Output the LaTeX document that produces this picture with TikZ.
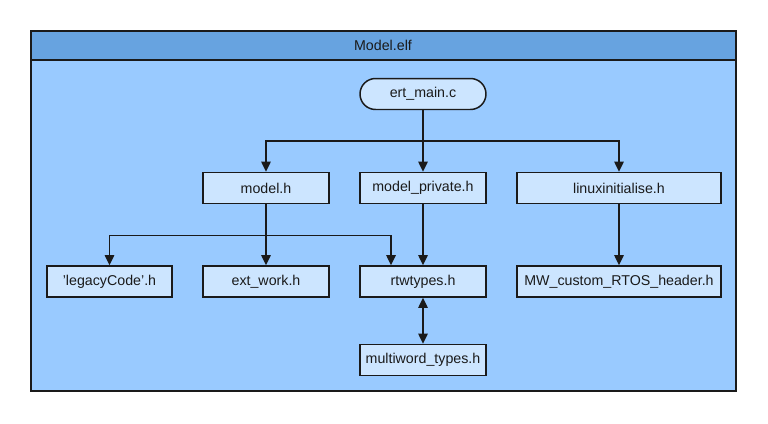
\documentclass[tikz,border=0pt]{standalone}
\usepackage{fontspec}
\setmainfont{Liberation Sans}
\usepackage{xcolor}
\usepackage{tikz}
\usetikzlibrary{calc,arrows.meta,shapes.misc}
\definecolor{head}{HTML}{67A3E0}
\definecolor{body}{HTML}{99CAFF}
\definecolor{cell}{HTML}{CCE5FF}
\definecolor{ink}{HTML}{1A1A1A}
\tikzset{
  frame/.style={draw=ink, line width=0.85pt},
  box/.style={draw=ink, fill=cell, line width=0.85pt, minimum width=2.52cm, minimum height=0.62cm, inner sep=0pt, font=\fontsize{8.1}{9}\selectfont},
  wide/.style={box, minimum width=4.08cm},
  term/.style={box, rounded rectangle},
  arr/.style={draw=ink, line width=0.85pt, -{Triangle[length=5.8pt,width=5.4pt]}},
  biarr/.style={arr, {Triangle[length=5.8pt,width=5.4pt]}-{Triangle[length=5.8pt,width=5.4pt]}},
  every node/.style={text=ink}
}

\begin{document}
\begin{tikzpicture}[x=0.02cm, y=-0.02cm]
  \useasboundingbox (0,0) rectangle (768,423);
  % outer frame with title band
  \fill[body] (31,31) rectangle (736,391);
  \fill[head] (31,31) rectangle (736,60);
  \draw[frame] (31,31) rectangle (736,391);
  \draw[frame] (31,60) -- (736,60);
  \node[font=\fontsize{8.1}{9}\selectfont] (title) at (383,45.5) {Model.elf};

  \node[term] (ert) at (423,94) {ert\_main.c};

  \node[box] (mh) at (266,188) {model.h};
  \node[box] (mp) at (423,188) {model\_private.h};
  \node[wide] (li) at (619,188) {linuxinitialise.h};

  \node[box, minimum width=2.5cm] (lc) at (109.5,281.5) {'legacyCode'.h};
  \node[box] (ew) at (266,281.5) {ext\_work.h};
  \node[box] (rt) at (423,281.5) {rtwtypes.h};
  \node[wide] (mw) at (619,281.5) {MW\_custom\_RTOS\_header.h};

  \node[box] (mt) at (423,360) {multiword\_types.h};

  \draw[arr] (ert.south) -- (mp.north);
  \draw[arr] (ert.south) -- ++(0,31) -| (mh.north);
  \draw[arr] (ert.south) -- ++(0,31) -| (li.north);

  \draw[arr] (mh.south) -- (ew.north);
  \draw[arr] (mh.south) -- ++(0,31) -| (lc.north);
  \draw[arr] (mh.south) -- ++(0,31) -| ([xshift=-0.64cm]rt.north);
  \draw[arr] (mp.south) -- (rt.north);
  \draw[arr] (li.south) -- (mw.north);

  \draw[biarr] (rt.south) -- (mt.north);
\end{tikzpicture}
\end{document}
